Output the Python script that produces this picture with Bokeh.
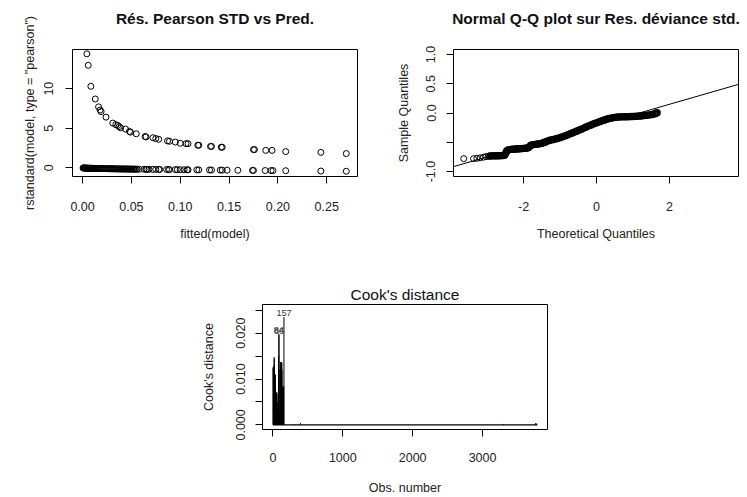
from bokeh.plotting import figure
from bokeh.layouts import column, row
from bokeh.models import Range1d, FixedTicker, Slope
from bokeh.embed import file_html
from bokeh.resources import INLINE

FONT = "Liberation Sans"
TXT = "#222222"

# ---------------- Panel 1 : Pearson std residuals vs fitted ----------------
fit_hi = [0.0044, 0.0058, 0.0085, 0.0130, 0.0164, 0.0180, 0.0190, 0.0240, 0.0310, 0.0340,
          0.0360, 0.0375, 0.0390, 0.0440, 0.0480, 0.0490, 0.0550, 0.0640, 0.0650, 0.0720,
          0.0750, 0.0780, 0.0870, 0.0890, 0.0950, 0.1000, 0.1060, 0.1080, 0.1180, 0.1190,
          0.1310, 0.1320, 0.1420, 0.1430, 0.1750, 0.1760, 0.1876, 0.1940, 0.2080, 0.2440,
          0.2700]
res_hi = [14.4, 12.95, 10.3, 8.7, 7.7, 7.3, 7.1, 6.4, 5.65, 5.45,
          5.35, 5.2, 5.05, 4.9, 4.6, 4.5, 4.3, 3.95, 3.9, 3.8,
          3.7, 3.6, 3.4, 3.35, 3.25, 3.1, 3.05, 3.05, 2.85, 2.85,
          2.7, 2.7, 2.6, 2.6, 2.3, 2.3, 2.2, 2.2, 2.05, 1.95,
          1.8]
fit_lo = [0.0005, 0.001, 0.0015, 0.002, 0.0025, 0.003, 0.0035, 0.004, 0.0045, 0.005,
          0.0055, 0.006, 0.0065, 0.007, 0.0075, 0.008, 0.0085, 0.009, 0.0095, 0.010,
          0.0105, 0.011, 0.0115, 0.012,
          0.013, 0.014, 0.015, 0.016, 0.017, 0.018, 0.019, 0.020, 0.021, 0.022,
          0.023, 0.024, 0.025, 0.026, 0.027, 0.028, 0.029, 0.030, 0.031, 0.032,
          0.033, 0.034, 0.035, 0.036, 0.037, 0.038, 0.039, 0.040, 0.041, 0.042,
          0.043, 0.044, 0.045, 0.046, 0.047, 0.048, 0.049, 0.050, 0.051, 0.052,
          0.053, 0.054, 0.055, 0.056,
          0.058, 0.063, 0.065, 0.066, 0.068, 0.072, 0.075, 0.078,
          0.079, 0.086, 0.088, 0.089, 0.095, 0.097, 0.100, 0.104, 0.107, 0.108,
          0.117, 0.119, 0.130, 0.132, 0.141, 0.143, 0.148, 0.159, 0.174, 0.175,
          0.187, 0.193, 0.195, 0.208, 0.244, 0.270]
res_lo = [-0.016, -0.023, -0.028, -0.032, -0.036, -0.040, -0.042, -0.045, -0.048, -0.051,
          -0.053, -0.056, -0.058, -0.060, -0.063, -0.065, -0.066, -0.068, -0.070, -0.072,
          -0.074, -0.076, -0.077, -0.079,
          -0.083, -0.086, -0.089, -0.092, -0.095, -0.097, -0.100, -0.103, -0.105, -0.108,
          -0.110, -0.113, -0.115, -0.117, -0.120, -0.122, -0.124, -0.127, -0.129, -0.131,
          -0.133, -0.135, -0.137, -0.139, -0.141, -0.143, -0.145, -0.147, -0.149, -0.150,
          -0.152, -0.154, -0.156, -0.158, -0.160, -0.161, -0.163, -0.165, -0.166, -0.168,
          -0.170, -0.172, -0.174, -0.175,
          -0.179, -0.186, -0.190, -0.192, -0.194, -0.201, -0.205, -0.210,
          -0.211, -0.221, -0.224, -0.225, -0.233, -0.236, -0.240, -0.246, -0.249, -0.251,
          -0.262, -0.264, -0.279, -0.281, -0.292, -0.294, -0.300, -0.313, -0.330, -0.331,
          -0.346, -0.352, -0.354, -0.369, -0.409, -0.438]
p1_xticks = [0.0, 0.05, 0.10, 0.15, 0.20, 0.25]
p1_xlabels = ["0.00", "0.05", "0.10", "0.15", "0.20", "0.25"]
p1_yticks = [0, 5, 10]
p1_ylabels = ["0", "5", "10"]

# ---------------- Panel 2 : Normal Q-Q ----------------
qq_tail_theo = [-3.64, -3.37, -3.28, -3.19, -3.10, -3.03, -2.97]
qq_tail_samp = [-0.780, -0.780, -0.775, -0.765, -0.755, -0.745, -0.740]
qq_theo = [-2.92, -2.88, -2.84, -2.80, -2.76, -2.72, -2.68, -2.64, -2.60, -2.56, -2.52,
           -2.49, -2.47, -2.45,
           -2.42, -2.38, -2.34, -2.30, -2.26, -2.22, -2.18, -2.14, -2.10, -2.06, -2.02,
           -1.98, -1.94, -1.90, -1.86, -1.83, -1.80,
           -1.76, -1.72, -1.68, -1.64, -1.60, -1.56, -1.52, -1.48, -1.44,
           -1.40, -1.35, -1.30, -1.25, -1.20, -1.15, -1.10, -1.05, -1.00, -0.95, -0.90,
           -0.85, -0.80, -0.75, -0.70, -0.65, -0.60, -0.55, -0.50, -0.45, -0.40, -0.35,
           -0.30, -0.25, -0.20, -0.15, -0.10, -0.05, 0.00, 0.05, 0.10, 0.15, 0.20, 0.25,
           0.30, 0.35, 0.40, 0.45, 0.50, 0.55, 0.60, 0.65, 0.70, 0.75, 0.80, 0.85, 0.90,
           0.95, 1.00, 1.05, 1.10, 1.15, 1.20, 1.25, 1.30, 1.35, 1.40, 1.45, 1.50, 1.55,
           1.60, 1.64, 1.66]
qq_samp = [-0.735, -0.733, -0.732, -0.732, -0.731, -0.730, -0.730, -0.729, -0.728, -0.726, -0.720,
           -0.690, -0.660, -0.640,
           -0.630, -0.625, -0.622, -0.620, -0.618, -0.616, -0.614, -0.612, -0.610, -0.608, -0.606,
           -0.604, -0.602, -0.598, -0.590, -0.570, -0.550,
           -0.545, -0.540, -0.536, -0.532, -0.528, -0.524, -0.520, -0.515, -0.505,
           -0.495, -0.480, -0.470, -0.462, -0.455, -0.447, -0.440, -0.430, -0.420, -0.410, -0.400,
           -0.388, -0.375, -0.362, -0.350, -0.337, -0.325, -0.312, -0.298, -0.285, -0.272, -0.258,
           -0.244, -0.230, -0.217, -0.204, -0.192, -0.180, -0.168, -0.156, -0.145, -0.133, -0.122,
           -0.112, -0.102, -0.094, -0.087, -0.080, -0.075, -0.072, -0.069, -0.067, -0.066, -0.065,
           -0.064, -0.063, -0.062, -0.061, -0.060, -0.058, -0.056, -0.053, -0.050, -0.047, -0.044,
           -0.040, -0.036, -0.032, -0.028, -0.022, -0.012, 0.000, 0.005]
qq_slope = 0.180
qq_intercept = -0.211
p2_xticks = [-2, 0, 2]
p2_xlabels = ["-2", "0", "2"]
p2_yticks = [-1.0, -0.5, 0.0, 0.5, 1.0]
p2_ylabels = ["-1.0", "", "0.0", "0.5", "1.0"]

# ---------------- Panel 3 : Cook's distance ----------------
cook_obs = [1, 4, 7, 10, 13, 16, 19, 22, 25, 28, 31, 34, 37, 40, 43, 46, 49, 52, 55, 58,
            61, 64, 67, 70, 73, 76, 79, 82, 84, 86, 88, 91, 94, 97, 100, 103, 106, 109,
            112, 115, 118, 121, 124, 127, 130, 133, 136, 139, 142, 145, 148, 151, 154, 157]
cook_val = [0.0125, 0.0126, 0.0118, 0.0124, 0.0130, 0.0148, 0.0145, 0.0112, 0.0110, 0.0105,
            0.0095, 0.0110, 0.0085, 0.0068, 0.0066, 0.0070, 0.0068, 0.0060, 0.0072, 0.0068,
            0.0050, 0.0035, 0.0032, 0.0034, 0.0036, 0.0040, 0.0100, 0.0150, 0.0199, 0.0196,
            0.0120, 0.0030, 0.0028, 0.0030, 0.0032, 0.0100, 0.0137, 0.0136, 0.0137, 0.0135,
            0.0136, 0.0134, 0.0137, 0.0135, 0.0120, 0.0085, 0.0084, 0.0083, 0.0085, 0.0084,
            0.0082, 0.0080, 0.0083, 0.0235]
cook_small_obs = [300, 395, 3300, 3760, 3775]
cook_small_val = [0.0002, 0.0004, 0.0002, 0.0004, 0.0003]
cook_first_obs = 1
cook_last_obs = 3785
cook_lab_obs = [84, 86, 157]
cook_lab_val = [0.0199, 0.0196, 0.0235]
cook_lab_txt = ["84", "86", "157"]
p3_xticks = [0, 1000, 2000, 3000]
p3_xlabels = ["0", "1000", "2000", "3000"]
p3_yticks = [0.0, 0.005, 0.010, 0.015, 0.020, 0.025]
p3_ylabels = ["0.000", "", "0.010", "", "0.020", ""]


def make_fig(w, h, xr, yr, ml, mr, mt, mb):
    p = figure(width=w, height=h, x_range=Range1d(*xr), y_range=Range1d(*yr),
               output_backend="svg", toolbar_location=None,
               min_border_left=ml, min_border_right=mr,
               min_border_top=mt, min_border_bottom=mb)
    p.xgrid.visible = False
    p.ygrid.visible = False
    p.outline_line_color = "black"
    p.outline_line_alpha = 1.0
    p.outline_line_width = 1
    p.background_fill_color = "white"
    p.border_fill_color = "white"
    return p


def style_axis(ax, ticks, labels, label, vertical, lab_standoff, axlab_standoff):
    ax.ticker = FixedTicker(ticks=ticks)
    ax.major_label_overrides = {t: l for t, l in zip(ticks, labels)}
    ax.axis_line_color = None
    ax.major_tick_line_color = "black"
    ax.major_tick_in = 0
    ax.major_tick_out = 7
    ax.minor_tick_line_color = None
    ax.major_label_text_font = FONT
    ax.major_label_text_font_size = "12.5px"
    ax.major_label_text_color = TXT
    ax.major_label_standoff = lab_standoff
    ax.axis_label = label
    ax.axis_label_text_font = FONT
    ax.axis_label_text_font_size = "12.5px"
    ax.axis_label_text_font_style = "normal"
    ax.axis_label_text_color = TXT
    ax.axis_label_standoff = axlab_standoff
    if vertical:
        ax.major_label_orientation = "vertical"


def style_title(p, text, bold, standoff, valign):
    p.title.text = text
    p.title.align = "center"
    p.title.vertical_align = valign
    p.title.text_font = FONT
    p.title.text_font_size = "15.5px"
    p.title.text_font_style = "bold" if bold else "normal"
    p.title.text_color = "#111111"
    p.title.standoff = standoff


# top row figures are 13 px taller and pulled up by a negative margin so the
# title can sit higher above the frame
TOP_SHIFT = 13

# Panel 1
p1 = make_fig(373, 250 + TOP_SHIFT, (-0.0103, 0.2815), (-1.1, 14.95), 72, 16, 49 + TOP_SHIFT, 74)
p1.margin = (-TOP_SHIFT, 0, 0, 0)
style_title(p1, "Rés. Pearson STD vs Pred.", True, 42, "top")
style_axis(p1.xaxis[0], p1_xticks, p1_xlabels, "fitted(model)", False, 18, 13)
style_axis(p1.yaxis[0], p1_yticks, p1_ylabels, 'rstandard(model, type = "pearson")', True, 12, 5)
p1.scatter(fit_hi, res_hi, marker="circle", size=6, fill_color=None, line_color="black", line_width=1)
p1.scatter(fit_lo, res_lo, marker="circle", size=6, fill_color=None, line_color="black", line_width=1)

# Panel 2
p2 = make_fig(374, 250 + TOP_SHIFT, (-3.92, 3.89), (-1.085, 1.085), 80, 9, 49 + TOP_SHIFT, 74)
p2.margin = (-TOP_SHIFT, 0, 0, 0)
style_title(p2, "Normal Q-Q plot sur Res. déviance std.", True, 42, "top")
style_axis(p2.xaxis[0], p2_xticks, p2_xlabels, "Theoretical Quantiles", False, 18, 13)
style_axis(p2.yaxis[0], p2_yticks, p2_ylabels, "Sample Quantiles", True, 11, 13)
p2.scatter(qq_tail_theo, qq_tail_samp, marker="circle", size=6, fill_color=None,
           line_color="black", line_width=1)
p2.scatter(qq_theo, qq_samp, marker="circle", size=5.5, fill_color=None,
           line_color="black", line_width=1.9)
p2.add_layout(Slope(gradient=qq_slope, y_intercept=qq_intercept, line_color="black", line_width=1))

# Panel 3
p3 = make_fig(747, 247, (-150, 3930), (-0.00101, 0.02627), 262, 200, 54, 63)
style_title(p3, "Cook's distance", False, 4, "bottom")
style_axis(p3.xaxis[0], p3_xticks, p3_xlabels, "Obs. number", False, 16, 16)
style_axis(p3.yaxis[0], p3_yticks, p3_ylabels, "Cook's distance", True, 10, 18)
p3.segment(x0=[cook_first_obs], y0=[0], x1=[cook_last_obs], y1=[0], line_color="black", line_width=1.2)
p3.segment(x0=cook_obs, y0=[0] * len(cook_obs), x1=cook_obs, y1=cook_val, line_color="black", line_width=1)
p3.segment(x0=cook_small_obs, y0=[0] * len(cook_small_obs), x1=cook_small_obs, y1=cook_small_val,
           line_color="black", line_width=1)
p3.text(x=cook_lab_obs, y=cook_lab_val, text=cook_lab_txt, text_align="center", text_baseline="bottom",
        y_offset=-1, text_font_size="9px", text_color="#333344", text_font={"value": FONT})

layout = column(row(p1, p2), p3)
open("out.html", "w").write(file_html(layout, INLINE))
